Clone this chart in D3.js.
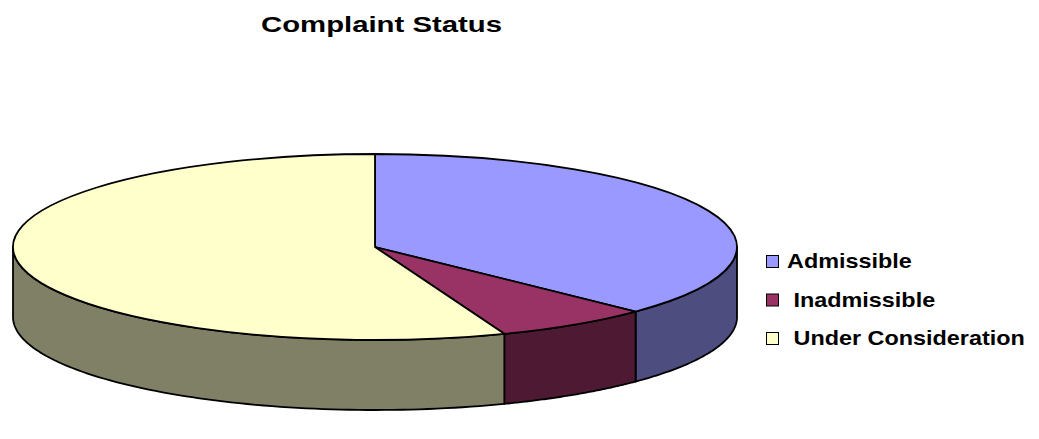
<!DOCTYPE html>
<html>
<head>
<meta charset="utf-8">
<script src="https://cdn.jsdelivr.net/npm/d3@7"></script>
<style>
  body { margin: 0; background: #fff; }
  text { font-family: Arial, "Liberation Sans", sans-serif; font-weight: bold; white-space: pre; }
</style>
</head>
<body>
<div id="chart"></div>
<script>
//////////////////////////// data /////////////////////////////////////////

const categories = ["Admissible", " Inadmissible", " Under Consideration"];
const values = [16, 3, 24];
const topColors = ["#9999ff", "#993366", "#ffffcc"];
const sideColors = ["#4d4d80", "#4d1933", "#808066"];
const title = "Complaint Status";

//////////////////////////// sizes ////////////////////////////////////////

const width = 1039;
const height = 439;
const pie3d = { cx: 375, cy: 247, rx: 362, ry: 93, depth: 70 };

const svg = d3.select("#chart").append("svg")
  .attr("width", width)
  .attr("height", height);

//////////////////////////// title ////////////////////////////////////////

svg.append("text")
  .attr("x", 261)
  .attr("y", 32)
  .attr("font-size", 22)
  .attr("textLength", 241)
  .attr("lengthAdjust", "spacingAndGlyphs")
  .text(title);

//////////////////////////// pie //////////////////////////////////////////

const arcs = d3.pie().sort(null).value((d) => d)(values);

// point on the top ellipse, angle 0 at 12 o'clock, clockwise
const px = (a) => pie3d.cx + pie3d.rx * Math.sin(a);
const py = (a) => pie3d.cy - pie3d.ry * Math.cos(a);

const line = d3.line();

// outer walls: only the front half of the rim shows
const walls = svg.append("g");
arcs.forEach((d, i) => {
  const a0 = Math.max(d.startAngle, Math.PI / 2);
  const a1 = Math.min(d.endAngle, Math.PI * 1.5);
  if (a1 <= a0) return;
  const n = 80;
  const angles = d3.range(n + 1).map((k) => a0 + (a1 - a0) * k / n);
  const top = angles.map((a) => [px(a), py(a)]);
  const bottom = angles.slice().reverse().map((a) => [px(a), py(a) + pie3d.depth]);
  walls.append("path")
    .attr("d", line(top.concat(bottom)) + "Z")
    .attr("fill", sideColors[i])
    .attr("stroke", "#000")
    .attr("stroke-width", 1.8)
    .attr("stroke-linejoin", "round");
});

// top faces
const tops = svg.append("g");
arcs.forEach((d, i) => {
  const large = d.endAngle - d.startAngle > Math.PI ? 1 : 0;
  const path = `M${pie3d.cx},${pie3d.cy}` +
    `L${px(d.startAngle)},${py(d.startAngle)}` +
    `A${pie3d.rx},${pie3d.ry} 0 ${large} 1 ${px(d.endAngle)},${py(d.endAngle)}Z`;
  tops.append("path")
    .attr("d", path)
    .attr("fill", topColors[i])
    .attr("stroke", "#000")
    .attr("stroke-width", 1.8)
    .attr("stroke-linejoin", "round");
});

//////////////////////////// legend ///////////////////////////////////////

const yLegend = d3.scalePoint()
  .domain(categories)
  .range([255, 332]);

const legend = svg.append("g")
  .selectAll("g")
  .data(categories)
  .join("g")
  .attr("transform", (d) => `translate(766,${yLegend(d)})`);

legend.append("rect")
  .attr("x", 0.5)
  .attr("y", 0.5)
  .attr("width", 12)
  .attr("height", 12)
  .attr("fill", (d, i) => topColors[i])
  .attr("stroke", "#000")
  .attr("stroke-width", 1);

legend.append("text")
  .attr("transform", "translate(21,13) scale(1.17,1)")
  .attr("font-size", 20)
  .text((d) => d);
</script>
</body>
</html>
